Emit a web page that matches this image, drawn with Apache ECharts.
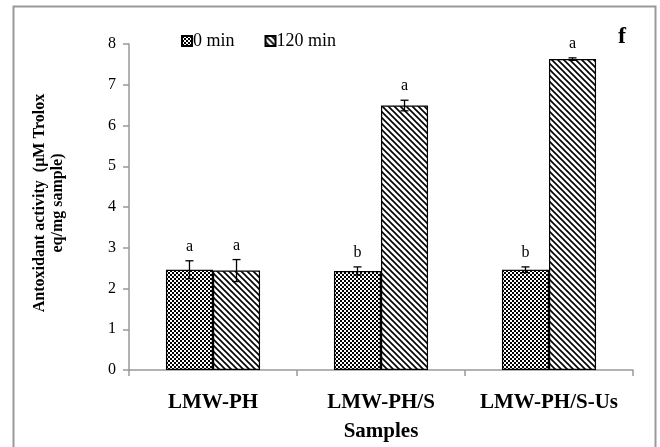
<!DOCTYPE html>
<html>
<head>
<meta charset="utf-8">
<script src="https://cdn.jsdelivr.net/npm/echarts@6/dist/echarts.min.js"></script>
<style>
  html, body { margin: 0; padding: 0; background: #fff; }
  #chart { width: 660px; height: 447px; }
</style>
</head>
<body>
<div id="chart"></div>
<script>
const categories = ['LMW-PH', 'LMW-PH/S', 'LMW-PH/S-Us'];
const min0 = [2.46, 2.43, 2.46];
const min120 = [2.44, 6.49, 7.63];
const err0 = [0.22, 0.10, 0.07];
const err120 = [0.27, 0.13, 0.03];
const letters0 = ['a', 'b', 'b'];
const letters120 = ['a', 'a', 'a'];

const serif = '"Liberation Serif", "Times New Roman", serif';

// fill patterns
function checkerPattern() {
  const c = document.createElement('canvas');
  c.width = 4; c.height = 4;
  const ctx = c.getContext('2d');
  ctx.fillStyle = '#fff';
  ctx.fillRect(0, 0, 4, 4);
  ctx.fillStyle = '#000';
  ctx.fillRect(0, 0, 2, 2);
  ctx.fillRect(2, 2, 2, 2);
  ctx.fillRect(1, 1, 1, 1);
  ctx.fillRect(3, 3, 1, 1);
  return c;
}
function diagPattern() {
  const s = 6;
  const c = document.createElement('canvas');
  c.width = s; c.height = s;
  const ctx = c.getContext('2d');
  ctx.fillStyle = '#fff';
  ctx.fillRect(0, 0, s, s);
  ctx.strokeStyle = '#000';
  ctx.lineWidth = 1.6;
  ctx.beginPath();
  ctx.moveTo(-1, -1); ctx.lineTo(s + 1, s + 1);
  ctx.moveTo(-s - 1, -1); ctx.lineTo(1, s + 1);
  ctx.moveTo(s - 1, -1); ctx.lineTo(2 * s + 1, s + 1);
  ctx.stroke();
  return c;
}

const chart = echarts.init(document.getElementById('chart'));

function errorSeries(name, vals, errs, letters, side) {
  return {
    type: 'custom',
    name: name + ' err',
    z: 10,
    silent: true,
    data: vals.map((v, i) => [i, v, errs[i], letters[i]]),
    renderItem: function (params, api) {
      const i = api.value(0);
      const v = api.value(1);
      const e = api.value(2);
      const catW = api.size([1, 0])[0];
      const dx = side * catW * 0.14;
      const top = api.coord([i, v + e]);
      const bot = api.coord([i, v - e]);
      const x = top[0] + dx;
      const cap = 4;
      const st = { stroke: '#000', lineWidth: 1.3 };
      return {
        type: 'group',
        children: [
          { type: 'line', shape: { x1: x, y1: top[1], x2: x, y2: bot[1] }, style: st },
          { type: 'line', shape: { x1: x - cap, y1: top[1], x2: x + cap, y2: top[1] }, style: st },
          { type: 'line', shape: { x1: x - cap, y1: bot[1], x2: x + cap, y2: bot[1] }, style: st },
          {
            type: 'text',
            style: {
              x: x, y: top[1] - 6,
              text: letters[i],
              fill: '#000',
              font: '16px ' + serif,
              align: 'center',
              verticalAlign: 'bottom'
            }
          }
        ]
      };
    }
  };
}

const option = {
  animation: false,
  backgroundColor: '#fff',
  grid: { left: 129, right: 27, top: 44, bottom: 75 },
  legend: {
    data: ['0 min', '120 min'],
    left: 176,
    top: 27,
    itemWidth: 10,
    itemHeight: 10,
    itemGap: 30,
    icon: 'rect',
    textStyle: { fontFamily: serif, fontSize: 18, color: '#000', padding: [0, 0, 0, -4] }
  },
  xAxis: {
    type: 'category',
    data: categories,
    name: 'Samples',
    nameLocation: 'middle',
    nameGap: 51,
    nameTextStyle: { fontFamily: serif, fontSize: 21, fontWeight: 'bold', color: '#000' },
    axisLine: { lineStyle: { color: '#999', width: 1.5 } },
    axisTick: { show: true, length: 6, lineStyle: { color: '#999', width: 1.5 } },
    axisLabel: {
      interval: 0,
      hideOverlap: false,
      fontFamily: serif, fontSize: 21, fontWeight: 'bold', color: '#000', margin: 22
    }
  },
  yAxis: {
    type: 'value',
    min: 0,
    max: 8,
    interval: 1,
    splitLine: { show: false },
    axisLine: { show: true, lineStyle: { color: '#999', width: 1.5 } },
    axisTick: { show: true, length: 6, lineStyle: { color: '#999', width: 1.5 } },
    axisLabel: { fontFamily: serif, fontSize: 16, color: '#000', margin: 13 }
  },
  series: [
    {
      name: '0 min',
      type: 'bar',
      data: min0,
      barGap: '0%',
      barCategoryGap: '44%',
      itemStyle: {
        color: { image: checkerPattern(), repeat: 'repeat' },
        borderColor: '#000',
        borderWidth: 1.2
      }
    },
    {
      name: '120 min',
      type: 'bar',
      data: min120,
      barGap: '0%',
      barCategoryGap: '44%',
      itemStyle: {
        color: { image: diagPattern(), repeat: 'repeat' },
        borderColor: '#000',
        borderWidth: 1.2
      }
    },
    errorSeries('0 min', min0, err0, letters0, -1),
    errorSeries('120 min', min120, err120, letters120, 1)
  ],
  graphic: [
    {
      type: 'rect',
      shape: { x: 13.5, y: 6.5, width: 642, height: 445 },
      style: { fill: 'none', stroke: '#999', lineWidth: 2 },
      silent: true
    },
    {
      type: 'text',
      x: 49,
      y: 203,
      rotation: Math.PI / 2,
      style: {
        text: 'Antoxidant activity  (µM Trolox\neq/mg sample)',
        font: 'bold 16px ' + serif,
        fill: '#000',
        align: 'center',
        verticalAlign: 'middle',
        lineHeight: 18
      }
    },
    {
      type: 'text',
      left: 618,
      top: 25,
      style: { text: 'f', font: 'bold 24px ' + serif, fill: '#000' }
    }
  ]
};

chart.setOption(option);
</script>
</body>
</html>
